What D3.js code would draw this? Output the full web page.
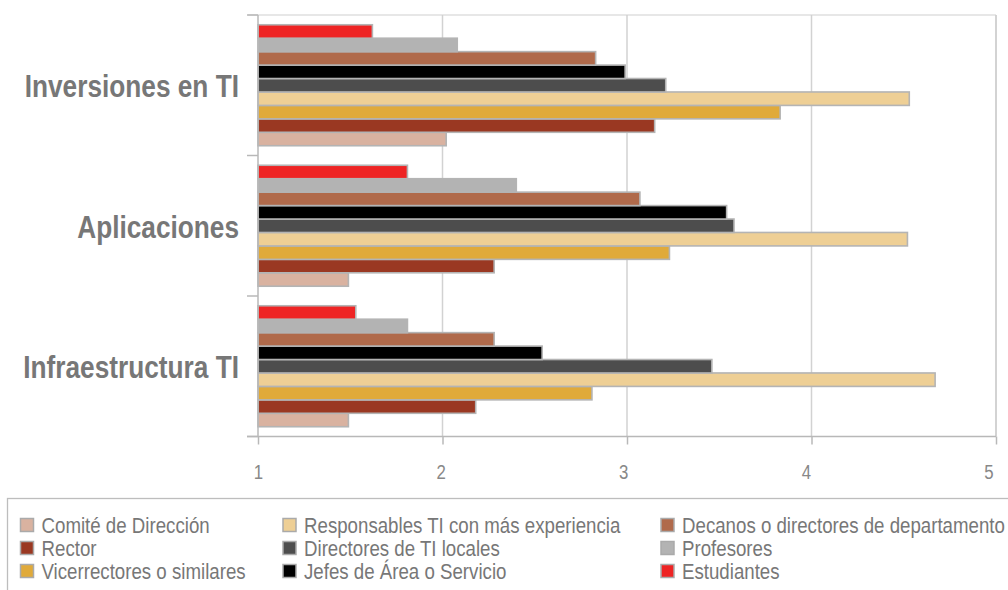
<!DOCTYPE html>
<html>
<head>
<meta charset="utf-8">
<script src="https://cdn.jsdelivr.net/npm/d3@7"></script>
<style>
  html, body { margin: 0; padding: 0; background: #fff; }
  svg { display: block; font-family: "Liberation Sans", Arimo, Arial, sans-serif; }
</style>
</head>
<body>
<svg id="chart" width="1008" height="590"></svg>
<script>
// Categories, top to bottom
const categories = ["Inversiones en TI", "Aplicaciones", "Infraestructura TI"];

// Series, in legend order (drawn bottom to top inside each group)
const seriesNames = [
  "Comité de Dirección",
  "Rector",
  "Vicerrectores o similares",
  "Responsables TI con más experiencia",
  "Directores de TI locales",
  "Jefes de Área o Servicio",
  "Decanos o directores de departamento",
  "Profesores",
  "Estudiantes"
];
const seriesColors = [
  "#d9b2a0", "#9a3822", "#e0aa3a", "#eecf95", "#4d4d4d",
  "#000000", "#b06a4b", "#b3b3b3", "#ee2424"
];

// Values per series: [Inversiones en TI, Aplicaciones, Infraestructura TI]
const comite        = [2.02, 1.49, 1.49];
const rector        = [3.15, 2.28, 2.18];
const vicerrectores = [3.83, 3.23, 2.81];
const responsables  = [4.53, 4.52, 4.67];
const directoresTI  = [3.21, 3.58, 3.46];
const jefes         = [2.99, 3.54, 2.54];
const decanos       = [2.83, 3.07, 2.28];
const profesores    = [2.08, 2.40, 1.81];
const estudiantes   = [1.62, 1.81, 1.53];

const seriesValues = [comite, rector, vicerrectores, responsables, directoresTI,
                      jefes, decanos, profesores, estudiantes];

const xTicks = [1, 2, 3, 4, 5];

// Horizontal squeeze that gives the condensed lettering
const narrow = 0.82;

const svg = d3.select("#chart");
const plotLeft = 258, plotRight = 996, plotTop = 15, plotBottom = 436.5;

const x = d3.scaleLinear().domain([1, 5]).range([plotLeft, plotRight]);
const y = d3.scaleBand().domain(categories).range([plotTop, plotBottom])
  .paddingInner(0.139).paddingOuter(0.0695);
// Last series sits on top of each group
const yInner = d3.scaleBand().domain(d3.range(seriesNames.length).reverse())
  .range([0, y.bandwidth()]).padding(0);

// Vertical gridlines
svg.append("g").selectAll("line")
  .data(xTicks.slice(1))
  .join("line")
  .attr("x1", d => x(d)).attr("x2", d => x(d))
  .attr("y1", plotTop).attr("y2", plotBottom)
  .attr("stroke", d => d === 5 ? "#c4c4c4" : "#d2d2d2")
  .attr("stroke-width", 1.5);

// Top border of the plot
svg.append("line")
  .attr("x1", plotLeft - 10).attr("x2", plotRight)
  .attr("y1", plotTop).attr("y2", plotTop)
  .attr("stroke", "#cfcfcf").attr("stroke-width", 1.2);

// Bars
const rows = [];
categories.forEach((c, ci) => {
  seriesValues.forEach((vals, si) => rows.push({ c, si, v: vals[ci] }));
});
svg.append("g").selectAll("rect")
  .data(rows)
  .join("rect")
  .attr("x", x(1))
  .attr("y", d => y(d.c) + yInner(d.si))
  .attr("width", d => x(d.v) - x(1))
  .attr("height", yInner.bandwidth())
  .attr("fill", d => seriesColors[d.si])
  .attr("stroke", "#b4b4b4")
  .attr("stroke-width", 1.6);

// Bottom axis
const xAxis = d3.axisBottom(x).tickValues(xTicks).tickSize(8).tickPadding(10)
  .tickFormat(d3.format("d"));
const gx = svg.append("g").attr("transform", `translate(0,${plotBottom})`).call(xAxis);
gx.select(".domain").attr("stroke", "#b8b8b8").attr("stroke-width", 1.5)
  .attr("d", `M${plotLeft - 11},0H${plotRight}`);
gx.selectAll(".tick line").attr("stroke", "#b8b8b8").attr("stroke-width", 1.5);
// Labels drift slightly left of their gridlines towards the right end
gx.selectAll(".tick text")
  .attr("fill", "#888")
  .attr("y", null).attr("dy", null)
  .attr("transform", d => `translate(${-(d - 1) * 1.9},42) scale(${narrow},1)`)
  .style("font-size", "20.5px")
  .style("font-family", "'Liberation Sans', Arimo, Arial, sans-serif");

// Left axis: line and boundary ticks
svg.append("line")
  .attr("x1", plotLeft).attr("x2", plotLeft).attr("y1", plotTop).attr("y2", plotBottom)
  .attr("stroke", "#b8b8b8").attr("stroke-width", 1.5);
const boundaries = [plotTop].concat(categories.map(c => y(c) + y.bandwidth() + y.step() * y.paddingInner() / 2));
boundaries[boundaries.length - 1] = plotBottom;
svg.append("g").selectAll("line")
  .data(boundaries)
  .join("line")
  .attr("x1", plotLeft - 11).attr("x2", plotLeft)
  .attr("y1", d => d).attr("y2", d => d)
  .attr("stroke", "#b8b8b8").attr("stroke-width", 1.5);

// Category labels
svg.append("g").selectAll("text")
  .data(categories)
  .join("text")
  .attr("transform", d => `translate(239,${y(d) + y.bandwidth() / 2 + 12}) scale(${narrow},1)`)
  .attr("text-anchor", "end")
  .attr("fill", "#777")
  .style("font-size", "32px")
  .style("font-weight", "bold")
  .text(d => d);

// Legend
svg.append("rect")
  .attr("x", 7.5).attr("y", 498.5).attr("width", 1010).attr("height", 120)
  .attr("fill", "none").attr("stroke", "#bdbdbd").attr("stroke-width", 1.3);

const colX = [20.5, 283, 661];
const rowY = [518.5, 541.5, 564.5];
const legend = svg.append("g").selectAll("g")
  .data(seriesNames)
  .join("g")
  .attr("transform", (d, i) => `translate(${colX[Math.floor(i / 3)]},${rowY[i % 3]})`);
legend.append("rect")
  .attr("width", 13).attr("height", 13)
  .attr("fill", (d, i) => seriesColors[i])
  .attr("stroke", "#aaa").attr("stroke-width", 1.5);
legend.append("text")
  .attr("transform", `translate(21,14.5) scale(${narrow},1)`)
  .attr("fill", "#777")
  .style("font-size", "22.8px")
  .text(d => d);
</script>
</body>
</html>
